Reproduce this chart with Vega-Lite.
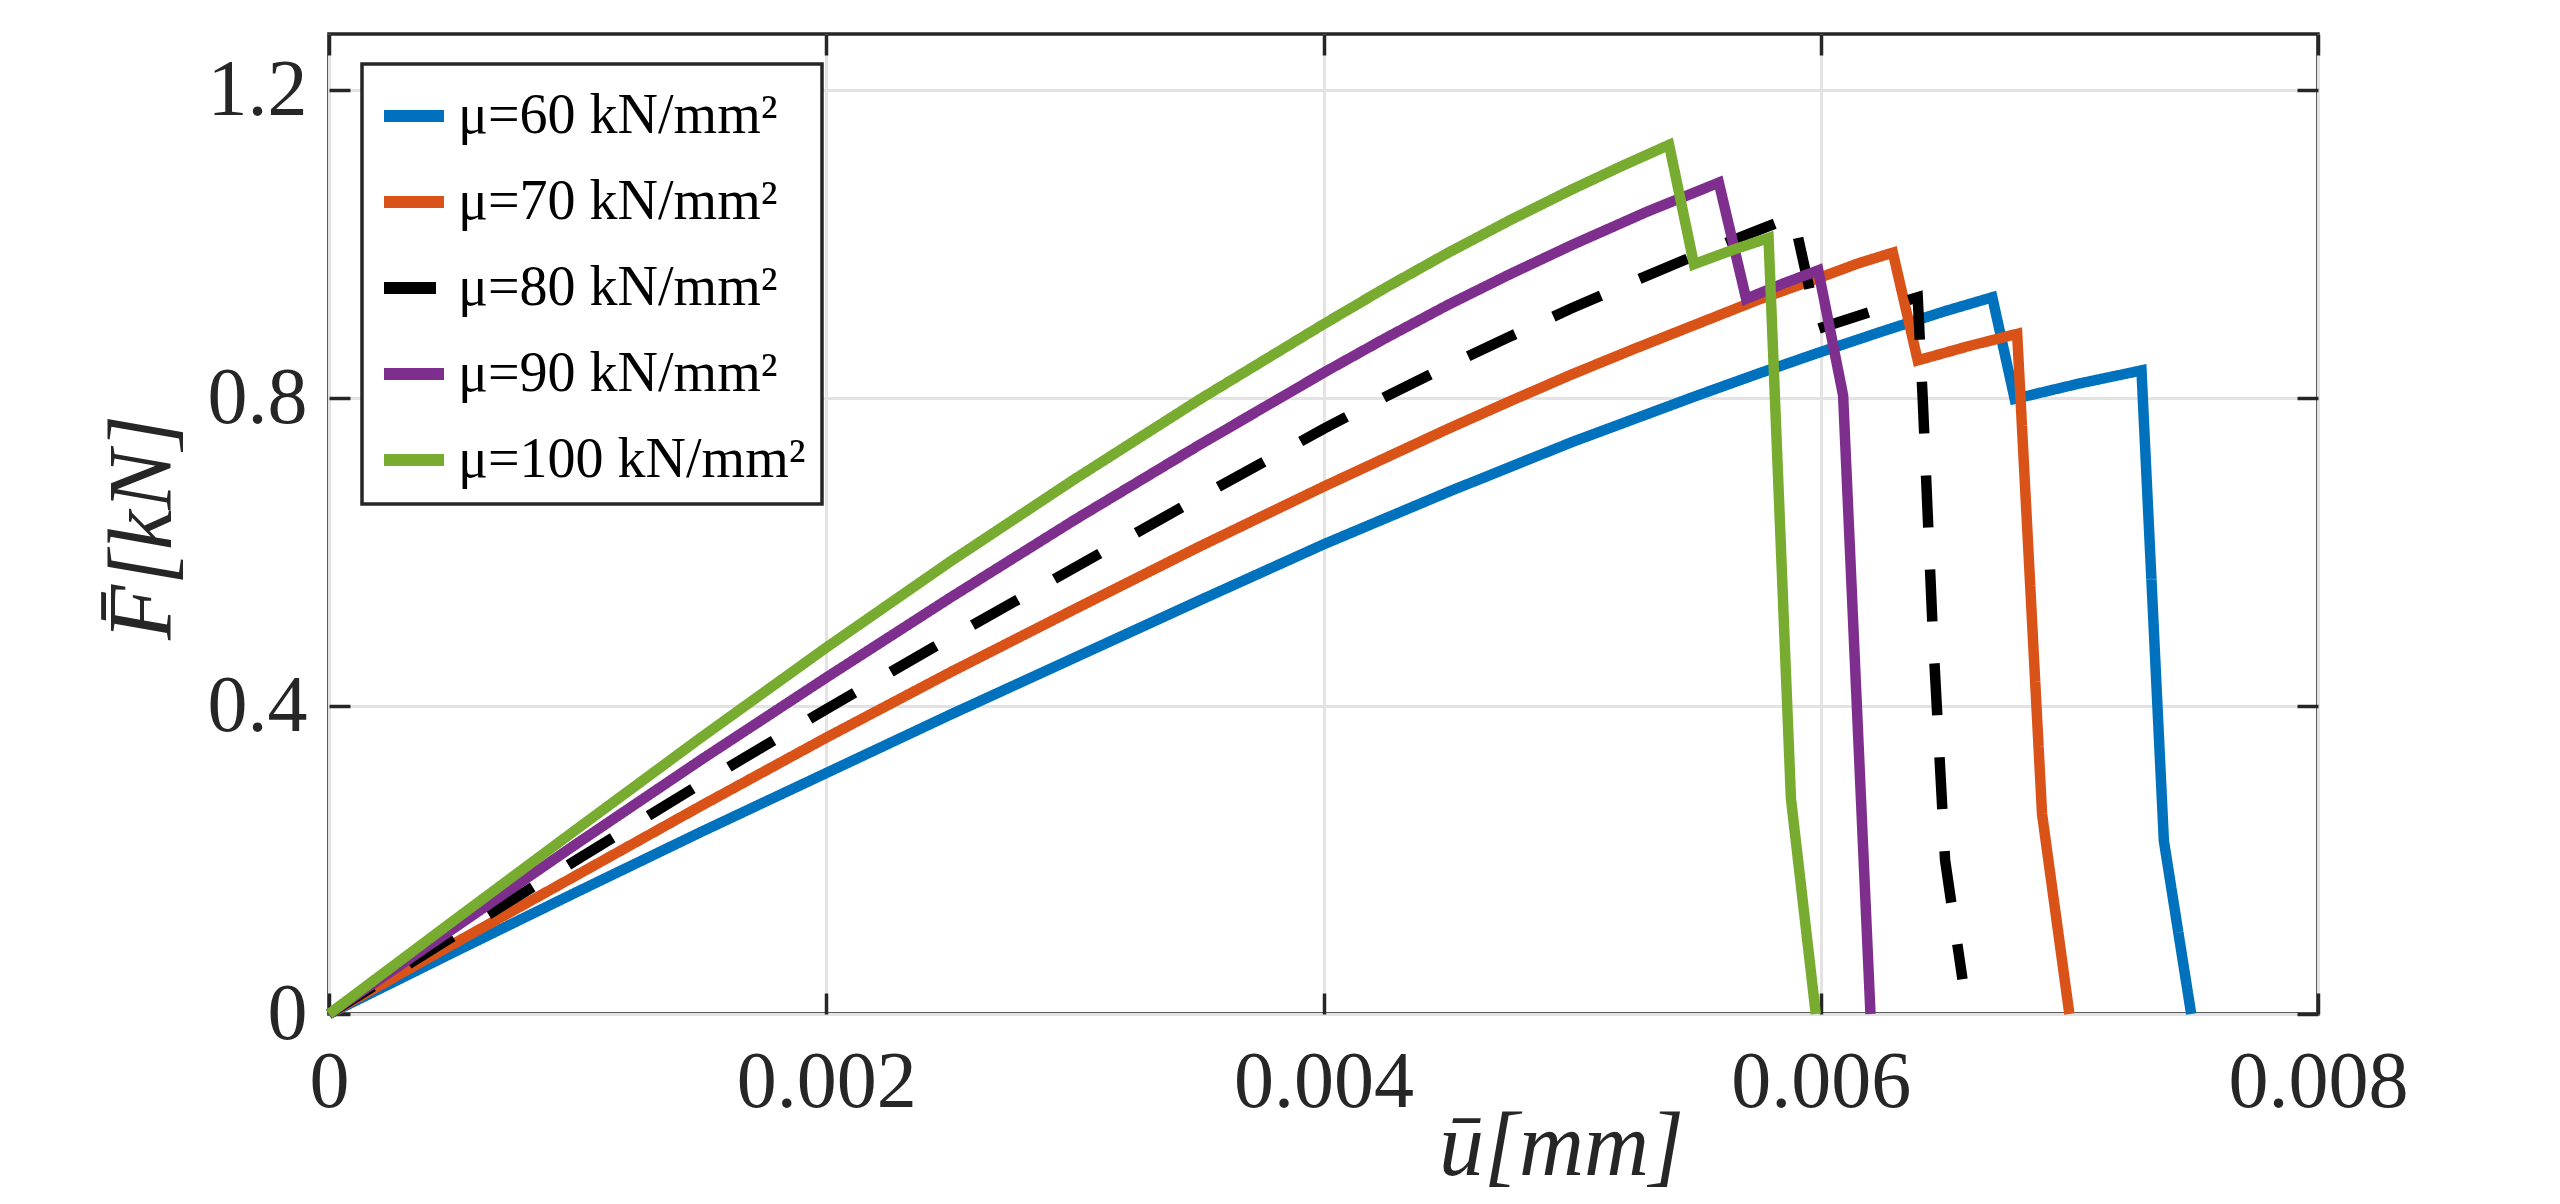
{
  "$schema": "https://vega.github.io/schema/vega-lite/v6.json",
  "description": "Load-displacement curves for five shear moduli.",
  "autosize": {"type": "none"},
  "padding": {"left": 329, "top": 34, "right": 242, "bottom": 190},
  "width": 1989,
  "height": 980,
  "background": "white",
  "data": {
    "values": [
      {"mu": "μ=60 kN/mm²", "u": 0, "F": 0},
      {"mu": "μ=60 kN/mm²", "u": 0.0005, "F": 0.08},
      {"mu": "μ=60 kN/mm²", "u": 0.001, "F": 0.159},
      {"mu": "μ=60 kN/mm²", "u": 0.0015, "F": 0.237},
      {"mu": "μ=60 kN/mm²", "u": 0.002, "F": 0.313},
      {"mu": "μ=60 kN/mm²", "u": 0.0025, "F": 0.389},
      {"mu": "μ=60 kN/mm²", "u": 0.003, "F": 0.463},
      {"mu": "μ=60 kN/mm²", "u": 0.0035, "F": 0.537},
      {"mu": "μ=60 kN/mm²", "u": 0.004, "F": 0.61},
      {"mu": "μ=60 kN/mm²", "u": 0.0045, "F": 0.678},
      {"mu": "μ=60 kN/mm²", "u": 0.005, "F": 0.743},
      {"mu": "μ=60 kN/mm²", "u": 0.00525, "F": 0.773},
      {"mu": "μ=60 kN/mm²", "u": 0.0055, "F": 0.803},
      {"mu": "μ=60 kN/mm²", "u": 0.00575, "F": 0.832},
      {"mu": "μ=60 kN/mm²", "u": 0.006, "F": 0.86},
      {"mu": "μ=60 kN/mm²", "u": 0.00625, "F": 0.887},
      {"mu": "μ=60 kN/mm²", "u": 0.0065, "F": 0.913},
      {"mu": "μ=60 kN/mm²", "u": 0.00669, "F": 0.931},
      {"mu": "μ=60 kN/mm²", "u": 0.00678, "F": 0.799},
      {"mu": "μ=60 kN/mm²", "u": 0.00704, "F": 0.819},
      {"mu": "μ=60 kN/mm²", "u": 0.00729, "F": 0.836},
      {"mu": "μ=60 kN/mm²", "u": 0.00738, "F": 0.225},
      {"mu": "μ=60 kN/mm²", "u": 0.00749, "F": 0},

      {"mu": "μ=70 kN/mm²", "u": 0, "F": 0},
      {"mu": "μ=70 kN/mm²", "u": 0.0005, "F": 0.091},
      {"mu": "μ=70 kN/mm²", "u": 0.001, "F": 0.181},
      {"mu": "μ=70 kN/mm²", "u": 0.0015, "F": 0.271},
      {"mu": "μ=70 kN/mm²", "u": 0.002, "F": 0.359},
      {"mu": "μ=70 kN/mm²", "u": 0.0025, "F": 0.444},
      {"mu": "μ=70 kN/mm²", "u": 0.003, "F": 0.526},
      {"mu": "μ=70 kN/mm²", "u": 0.0035, "F": 0.607},
      {"mu": "μ=70 kN/mm²", "u": 0.004, "F": 0.685},
      {"mu": "μ=70 kN/mm²", "u": 0.0045, "F": 0.76},
      {"mu": "μ=70 kN/mm²", "u": 0.00475, "F": 0.796},
      {"mu": "μ=70 kN/mm²", "u": 0.005, "F": 0.831},
      {"mu": "μ=70 kN/mm²", "u": 0.00525, "F": 0.864},
      {"mu": "μ=70 kN/mm²", "u": 0.0055, "F": 0.896},
      {"mu": "μ=70 kN/mm²", "u": 0.00575, "F": 0.928},
      {"mu": "μ=70 kN/mm²", "u": 0.006, "F": 0.957},
      {"mu": "μ=70 kN/mm²", "u": 0.00615, "F": 0.975},
      {"mu": "μ=70 kN/mm²", "u": 0.00629, "F": 0.989},
      {"mu": "μ=70 kN/mm²", "u": 0.00639, "F": 0.849},
      {"mu": "μ=70 kN/mm²", "u": 0.0066, "F": 0.868},
      {"mu": "μ=70 kN/mm²", "u": 0.00679, "F": 0.8835},
      {"mu": "μ=70 kN/mm²", "u": 0.00689, "F": 0.26},
      {"mu": "μ=70 kN/mm²", "u": 0.007, "F": 0},

      {"mu": "μ=80 kN/mm²", "u": 0, "F": 0},
      {"mu": "μ=80 kN/mm²", "u": 0.0005, "F": 0.101},
      {"mu": "μ=80 kN/mm²", "u": 0.001, "F": 0.201},
      {"mu": "μ=80 kN/mm²", "u": 0.0015, "F": 0.3},
      {"mu": "μ=80 kN/mm²", "u": 0.002, "F": 0.396},
      {"mu": "μ=80 kN/mm²", "u": 0.0025, "F": 0.489},
      {"mu": "μ=80 kN/mm²", "u": 0.003, "F": 0.58},
      {"mu": "μ=80 kN/mm²", "u": 0.0035, "F": 0.671},
      {"mu": "μ=80 kN/mm²", "u": 0.004, "F": 0.76},
      {"mu": "μ=80 kN/mm²", "u": 0.00425, "F": 0.802},
      {"mu": "μ=80 kN/mm²", "u": 0.0045, "F": 0.842},
      {"mu": "μ=80 kN/mm²", "u": 0.00475, "F": 0.88},
      {"mu": "μ=80 kN/mm²", "u": 0.005, "F": 0.917},
      {"mu": "μ=80 kN/mm²", "u": 0.00525, "F": 0.952},
      {"mu": "μ=80 kN/mm²", "u": 0.0055, "F": 0.986},
      {"mu": "μ=80 kN/mm²", "u": 0.0057, "F": 1.012},
      {"mu": "μ=80 kN/mm²", "u": 0.00589, "F": 1.036},
      {"mu": "μ=80 kN/mm²", "u": 0.00599, "F": 0.89},
      {"mu": "μ=80 kN/mm²", "u": 0.0062, "F": 0.912},
      {"mu": "μ=80 kN/mm²", "u": 0.00639, "F": 0.931},
      {"mu": "μ=80 kN/mm²", "u": 0.00641, "F": 0.8},
      {"mu": "μ=80 kN/mm²", "u": 0.00645, "F": 0.5},
      {"mu": "μ=80 kN/mm²", "u": 0.0065, "F": 0.2},
      {"mu": "μ=80 kN/mm²", "u": 0.00657, "F": 0.045},

      {"mu": "μ=90 kN/mm²", "u": 0, "F": 0},
      {"mu": "μ=90 kN/mm²", "u": 0.0005, "F": 0.111},
      {"mu": "μ=90 kN/mm²", "u": 0.001, "F": 0.222},
      {"mu": "μ=90 kN/mm²", "u": 0.0015, "F": 0.331},
      {"mu": "μ=90 kN/mm²", "u": 0.002, "F": 0.437},
      {"mu": "μ=90 kN/mm²", "u": 0.0025, "F": 0.541},
      {"mu": "μ=90 kN/mm²", "u": 0.003, "F": 0.642},
      {"mu": "μ=90 kN/mm²", "u": 0.0035, "F": 0.739},
      {"mu": "μ=90 kN/mm²", "u": 0.004, "F": 0.833},
      {"mu": "μ=90 kN/mm²", "u": 0.00425, "F": 0.878},
      {"mu": "μ=90 kN/mm²", "u": 0.0045, "F": 0.921},
      {"mu": "μ=90 kN/mm²", "u": 0.00475, "F": 0.961},
      {"mu": "μ=90 kN/mm²", "u": 0.005, "F": 0.999},
      {"mu": "μ=90 kN/mm²", "u": 0.0053, "F": 1.042},
      {"mu": "μ=90 kN/mm²", "u": 0.00559, "F": 1.08},
      {"mu": "μ=90 kN/mm²", "u": 0.0057, "F": 0.929},
      {"mu": "μ=90 kN/mm²", "u": 0.00585, "F": 0.949},
      {"mu": "μ=90 kN/mm²", "u": 0.00599, "F": 0.966},
      {"mu": "μ=90 kN/mm²", "u": 0.00609, "F": 0.8035},
      {"mu": "μ=90 kN/mm²", "u": 0.0062, "F": 0},

      {"mu": "μ=100 kN/mm²", "u": 0, "F": 0},
      {"mu": "μ=100 kN/mm²", "u": 0.0005, "F": 0.121},
      {"mu": "μ=100 kN/mm²", "u": 0.001, "F": 0.241},
      {"mu": "μ=100 kN/mm²", "u": 0.0015, "F": 0.36},
      {"mu": "μ=100 kN/mm²", "u": 0.002, "F": 0.476},
      {"mu": "μ=100 kN/mm²", "u": 0.0025, "F": 0.588},
      {"mu": "μ=100 kN/mm²", "u": 0.003, "F": 0.695},
      {"mu": "μ=100 kN/mm²", "u": 0.0035, "F": 0.798},
      {"mu": "μ=100 kN/mm²", "u": 0.004, "F": 0.896},
      {"mu": "μ=100 kN/mm²", "u": 0.00425, "F": 0.9435},
      {"mu": "μ=100 kN/mm²", "u": 0.0045, "F": 0.9886},
      {"mu": "μ=100 kN/mm²", "u": 0.00475, "F": 1.0311},
      {"mu": "μ=100 kN/mm²", "u": 0.005, "F": 1.0712},
      {"mu": "μ=100 kN/mm²", "u": 0.0052, "F": 1.1015},
      {"mu": "μ=100 kN/mm²", "u": 0.00539, "F": 1.129},
      {"mu": "μ=100 kN/mm²", "u": 0.00549, "F": 0.974},
      {"mu": "μ=100 kN/mm²", "u": 0.00565, "F": 0.993},
      {"mu": "μ=100 kN/mm²", "u": 0.00579, "F": 1.008},
      {"mu": "μ=100 kN/mm²", "u": 0.00588, "F": 0.28},
      {"mu": "μ=100 kN/mm²", "u": 0.00598, "F": 0}
    ]
  },
  "layer": [
    {
      "mark": {"type": "line", "strokeWidth": 10.5, "strokeJoin": "miter", "strokeCap": "butt"},
      "encoding": {
        "x": {
          "field": "u",
          "type": "quantitative",
          "scale": {"domain": [0, 0.008], "nice": false, "zero": false},
          "axis": {
            "orient": "bottom",
            "values": [0, 0.002, 0.004, 0.006, 0.008],
            "labelExpr": "datum.value == 0 ? '0' : format(datum.value, '.3f')",
            "labelFlush": false,
            "labelOverlap": false,
            "labelBound": false,
            "labelLimit": 0,
            "labelFont": "Liberation Serif",
            "labelFontSize": 80,
            "labelColor": "#262626",
            "labelPadding": 50,
            "tickSize": -21,
            "tickWidth": 3.5,
            "tickColor": "#262626",
            "domain": false,
            "grid": true,
            "gridColor": "#e3e3e3",
            "gridWidth": 3,
            "title": "ū[mm]",
            "titleFont": "Liberation Serif",
            "titleFontStyle": "italic",
            "titleFontWeight": "normal",
            "titleFontSize": 90,
            "titleColor": "#262626",
            "titleAlign": "center",
            "titleBaseline": "alphabetic",
            "titleX": 1232,
            "titleY": 160
          }
        },
        "y": {
          "field": "F",
          "type": "quantitative",
          "scale": {"domain": [0, 1.273], "nice": false, "zero": false},
          "axis": {
            "orient": "left",
            "values": [0, 0.4, 0.8, 1.2],
            "labelExpr": "datum.value == 0 ? '0' : format(datum.value, '.1f')",
            "labelOverlap": false,
            "labelBound": false,
            "labelFlush": false,
            "labelLimit": 0,
            "labelFont": "Liberation Serif",
            "labelFontSize": 80,
            "labelColor": "#262626",
            "labelPadding": 43,
            "tickSize": -21,
            "tickWidth": 3.5,
            "tickColor": "#262626",
            "domain": false,
            "grid": true,
            "gridColor": "#e3e3e3",
            "gridWidth": 3,
            "title": "F̄[kN]",
            "titleFont": "Liberation Serif",
            "titleFontStyle": "italic",
            "titleFontWeight": "normal",
            "titleFontSize": 90,
            "titleColor": "#262626",
            "titleAlign": "center",
            "titleBaseline": "alphabetic",
            "titleAngle": -90,
            "titleX": -159,
            "titleY": 493
          }
        },
        "color": {
          "field": "mu",
          "type": "nominal",
          "scale": {
            "domain": ["μ=60 kN/mm²", "μ=70 kN/mm²", "μ=80 kN/mm²", "μ=90 kN/mm²", "μ=100 kN/mm²"],
            "range": ["#0072BD", "#D95319", "#000000", "#7E2F8E", "#77AC30"]
          },
          "legend": {"title": null}
        },
        "strokeDash": {
          "field": "mu",
          "type": "nominal",
          "scale": {
            "domain": ["μ=60 kN/mm²", "μ=70 kN/mm²", "μ=80 kN/mm²", "μ=90 kN/mm²", "μ=100 kN/mm²"],
            "range": [[1, 0], [1, 0], [52, 42], [1, 0], [1, 0]]
          },
          "legend": {"title": null}
        }
      }
    },
    {
      "mark": {"type": "point", "opacity": 0},
      "encoding": {
        "x": {
          "field": "u",
          "type": "quantitative",
          "scale": {"domain": [0, 0.008], "nice": false, "zero": false},
          "axis": {
            "orient": "top",
            "values": [0, 0.002, 0.004, 0.006, 0.008],
            "labels": false,
            "tickSize": -21,
            "tickWidth": 3.5,
            "tickColor": "#262626",
            "domain": false,
            "grid": false,
            "title": null
          }
        },
        "y": {
          "field": "F",
          "type": "quantitative",
          "scale": {"domain": [0, 1.273], "nice": false, "zero": false},
          "axis": {
            "orient": "right",
            "values": [0, 0.4, 0.8, 1.2],
            "labels": false,
            "tickSize": -21,
            "tickWidth": 3.5,
            "tickColor": "#262626",
            "domain": false,
            "grid": false,
            "title": null
          }
        }
      }
    }
  ],
  "resolve": {"axis": {"x": "independent", "y": "independent"}},
  "config": {
    "view": {"stroke": "#262626", "strokeWidth": 3.5},
    "axis": {"titleFont": "Liberation Serif", "labelFont": "Liberation Serif"},
    "legend": {
      "orient": "none",
      "legendX": 33,
      "legendY": 30,
      "fillColor": "white",
      "strokeColor": "#262626",
      "strokeWidth": 3.5,
      "padding": 16,
      "symbolType": "stroke",
      "symbolSize": 3600,
      "symbolStrokeWidth": 12,
      "labelFont": "Liberation Serif",
      "labelFontSize": 56,
      "labelColor": "#000000",
      "labelOffset": 8,
      "labelLimit": 0,
      "rowPadding": 22
    }
  }
}
